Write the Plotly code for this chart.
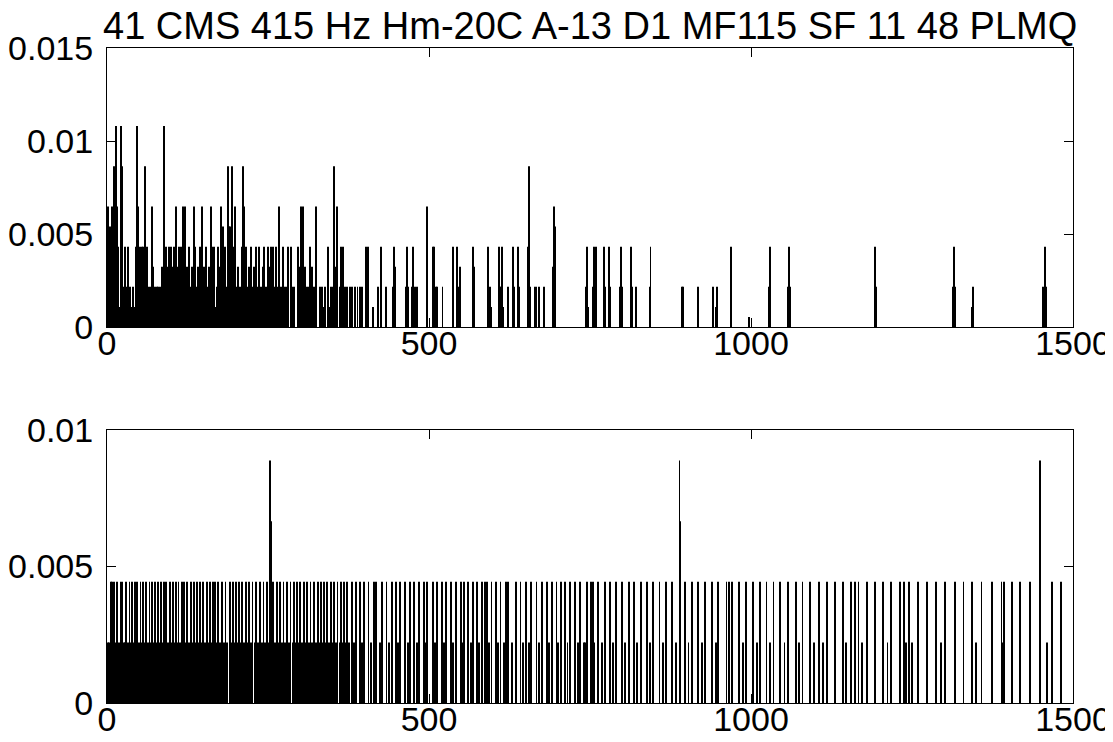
import plotly.graph_objects as go

TITLE = "41 CMS 415 Hz Hm-20C A-13 D1 MF115 SF 11 48 PLMQ"
X_TICKS = [0, 500, 1000, 1500]
X_TICK_LABELS = ["0", "500", "1000", "1500"]
TOP_Y_TICKS = [0, 0.005, 0.01, 0.015]
TOP_Y_TICK_LABELS = ["0", "0.005", "0.01", "0.015"]
BOT_Y_TICKS = [0, 0.005, 0.01]
BOT_Y_TICK_LABELS = ["0", "0.005", "0.01"]

# ---------------- top panel: bar positions grouped by bar height ----------------
TOP_H10_X = [13.4, 21.7, 47.1, 89]
TOP_H8_X = [10.3, 23.3, 58.5, 187.4, 194.1, 211.7, 353, 655]
TOP_H7_X = [88]
TOP_H6_X = [2, 7.2, 16, 48.7, 69.4, 107.1, 117.5, 120.6, 135.1, 148, 161, 177.5,
            198.8, 213.2, 267.6, 301.3, 304.9, 324, 356.7, 496.4, 694.6]
TOP_H5_X = [4.7, 180.6, 189.4, 191.5, 696]
TOP_H4_X = [8.8, 17.6, 28, 33.1, 44.5, 51.2, 53.8, 56.4, 61.6, 91.6, 96.8, 99.4, 104,
            112.3, 114.9, 127.8, 137.2, 144.4, 153.7, 163.6, 166.7, 172.9, 182.7,
            196.2, 209.1, 215.8, 223.6, 231.4, 236.5, 244.3, 249.5, 254.7, 257.3,
            262.4, 272.8, 281.6, 285.7, 297, 315.3, 342.7, 362.9, 366, 402.2, 405.8,
            425, 445.7, 466.4, 475.7, 506.8, 508.3, 536.8, 543, 569, 592, 608.7,
            613.9, 631, 638.7, 654, 744.8, 756, 758.8, 772, 780, 797.6, 813, 844,
            969, 1029, 1059, 1193, 1315, 1456]
TOP_H3_X = [72, 84.9, 94.2, 102, 109.2, 124.7, 132, 141.8, 150.6, 158.9, 175.5, 203.9,
            221, 228.8, 241.7, 252.1, 298.7, 307.5, 317.8, 354, 358, 404.8, 447.2,
            497.5, 548, 570.4, 693]
TOP_H2_X = [25.4, 30.5, 35.7, 40.9, 64.2, 66.8, 74.5, 77.1, 79.7, 82.3, 122.7, 129.9,
            139.2, 155.8, 170.3, 184.8, 201.3, 206.5, 218.4, 226.2, 233.9, 239.1,
            246.9, 259.8, 265, 269.7, 274.8, 277.9, 285, 288, 290, 296, 299, 309, 312,
            316, 319, 321, 330.8, 334.4, 338.5, 347, 350, 356, 361, 364, 369.6, 372,
            377.4, 380, 385, 389, 393, 395.5, 421.4, 433.3, 444.7, 464.3, 468, 474,
            478, 482, 511, 513, 521, 545.6, 595, 610, 612, 622, 632.5, 640, 657,
            664.6, 667, 671, 679, 743, 755, 760, 774, 781, 796, 800, 815, 821, 843,
            893, 894, 918.3, 941, 947, 1028, 1057, 1060.5, 1194, 1313, 1317, 1345,
            1454, 1458]
TOP_H1_X = [0.5, 5.8, 12, 19.3, 27, 37, 38.3, 42.7, 62.9, 68, 71, 76, 81, 86.5, 93, 101,
            106, 111, 119, 126, 134, 146, 152, 157, 169, 179, 186, 200, 208, 217, 225,
            235, 243, 251, 261, 271, 276, 280, 332, 336, 345.3, 412.6, 596, 615.6,
            623, 670, 747, 822, 892, 945.7, 1343]
TOP_H05_X = [997]

TOP_GROUP_X = [TOP_H10_X, TOP_H8_X, TOP_H7_X, TOP_H6_X, TOP_H5_X, TOP_H4_X,
               TOP_H3_X, TOP_H2_X, TOP_H1_X, TOP_H05_X]
TOP_GROUP_HEIGHT = [0.0108, 0.00864, 0.00756, 0.00648, 0.0054, 0.00432,
                    0.00324, 0.00216, 0.00108, 0.00054]

# ---------------- bottom panel ----------------
BOT_H4_X = [8, 6, 11, 16, 21, 23, 30, 35, 39, 43, 47, 52, 56, 61, 66, 70, 75, 79, 84,
            88, 92, 98, 102, 107, 111, 116, 120, 124, 130, 135, 140, 144, 149, 155,
            160, 164, 168, 173, 178, 184, 191, 195, 201, 205, 210, 216, 221, 226, 231,
            237, 243, 248, 258, 264, 269, 274, 279, 285, 290, 295, 300, 306, 311, 316,
            321, 327, 332, 337, 342, 348, 353, 358, 363, 368, 373,
            380, 387, 393, 399, 406, 414, 418, 427, 434, 442, 449, 455, 463, 471, 477,
            485, 492, 497, 506, 513, 520, 526, 534, 542, 549, 554, 561, 568, 574, 582,
            587, 590, 597, 604, 611, 620, 623, 635, 642, 651, 659, 667, 675, 683, 691,
            698, 705, 711, 719, 727, 735, 745,
            752, 755, 763, 773, 781, 791, 799, 810, 818, 829, 838, 848, 858, 868, 877,
            898, 908, 918, 929, 939, 949, 962, 966, 970, 982, 992, 1003, 1014, 1024,
            1035, 1045, 1058, 1070, 1080, 1092, 1106,
            1118, 1131, 1143, 1155, 1162, 1167, 1180, 1192, 1205, 1218, 1231, 1237,
            1246, 1260, 1273, 1287, 1301, 1317, 1330, 1343, 1358, 1374, 1389, 1393,
            1405, 1418, 1433, 1467, 1482]
BOT_H2_X = [1, 3, 8, 13, 18, 26, 28, 33, 37, 41, 45, 50, 54, 58, 63, 68, 72, 77, 81, 86,
            90, 95, 100, 105, 109, 113, 118, 122, 127, 132, 137, 142, 147, 152, 157,
            162, 171, 176, 181, 187, 193, 198, 203, 208, 213, 219, 224, 229, 234, 240,
            246, 250, 256, 261, 266, 272, 277, 282, 288, 293, 298, 303, 309, 314, 319,
            324, 330, 335, 340, 345, 351, 356, 361, 366, 371, 376,
            383, 396, 410, 424, 438, 452, 467, 481, 495, 509, 523, 537, 551, 565, 578,
            593, 607, 617, 629, 646, 655, 671, 687, 701, 715, 731, 740,
            742, 757, 768, 786, 804, 823, 843, 863, 884, 903, 924, 945, 987, 1009,
            1030, 1052, 1075, 1098, 1112,
            1148, 1172, 1212, 1241, 1250, 1295, 1350, 1390, 1460]
BOT_H8_X = [253, 889, 1449]
BOT_H6_X = [254.5, 890.5]

BOT_GROUP_X = [BOT_H8_X, BOT_H6_X, BOT_H4_X, BOT_H2_X]
BOT_GROUP_HEIGHT = [0.00888, 0.00666, 0.00444, 0.00222]

FONT = "Liberation Sans, Arial, Helvetica, sans-serif"
BAR_WIDTH = 1.4

fig = go.Figure()
for xs, h in zip(TOP_GROUP_X, TOP_GROUP_HEIGHT):
    fig.add_trace(go.Bar(x=xs, y=[h] * len(xs), width=BAR_WIDTH,
                         marker=dict(color="black", line=dict(width=0)),
                         xaxis="x", yaxis="y", showlegend=False, hoverinfo="x+y"))
for xs, h in zip(BOT_GROUP_X, BOT_GROUP_HEIGHT):
    fig.add_trace(go.Bar(x=xs, y=[h] * len(xs), width=BAR_WIDTH,
                         marker=dict(color="black", line=dict(width=0)),
                         xaxis="x2", yaxis="y2", showlegend=False, hoverinfo="x+y"))

# page has an 8px body margin: the figure is made smaller and everything is
# positioned relative to the window
OFF = 8
W, H = 1113 - OFF, 742 - OFF
L_PX, R_PX = 107 - OFF, 1073 - OFF
TOP_T, TOP_B = 48 - OFF, 327 - OFF
BOT_T, BOT_B = 430 - OFF, 703 - OFF

axis_common = dict(showline=True, linecolor="black", linewidth=1, mirror="ticks",
                   ticks="inside", ticklen=9, tickwidth=1, tickcolor="black",
                   showgrid=False, zeroline=False, automargin=False,
                   tickfont=dict(family=FONT, size=34, color="black"))

fig.update_layout(
    template="none",
    width=W, height=H,
    margin=dict(l=0, r=0, t=0, b=0, pad=0),
    paper_bgcolor="white", plot_bgcolor="white",
    barmode="overlay",
    font=dict(family=FONT, color="black"),
    xaxis=dict(domain=[L_PX / W, R_PX / W], range=[0, 1500], anchor="y",
               tickvals=X_TICKS, ticktext=X_TICK_LABELS, ticklabelstandoff=-14,
               **axis_common),
    yaxis=dict(domain=[1 - TOP_B / H, 1 - TOP_T / H], range=[0, 0.015], anchor="x",
               tickvals=TOP_Y_TICKS, ticktext=TOP_Y_TICK_LABELS, ticklabelstandoff=6,
               **axis_common),
    xaxis2=dict(domain=[L_PX / W, R_PX / W], range=[0, 1500], anchor="y2",
                tickvals=X_TICKS, ticktext=X_TICK_LABELS, ticklabelstandoff=-14,
                **axis_common),
    yaxis2=dict(domain=[1 - BOT_B / H, 1 - BOT_T / H], range=[0, 0.01], anchor="x2",
                tickvals=BOT_Y_TICKS, ticktext=BOT_Y_TICK_LABELS, ticklabelstandoff=6,
                **axis_common),
    annotations=[dict(text=TITLE, xref="paper", yref="paper",
                      x=(L_PX + R_PX) / 2 / W, y=1 - (26 - OFF) / H,
                      xanchor="center", yanchor="middle", showarrow=False,
                      font=dict(family=FONT, size=38, color="black"))],
)

fig.write_html("out.html")
